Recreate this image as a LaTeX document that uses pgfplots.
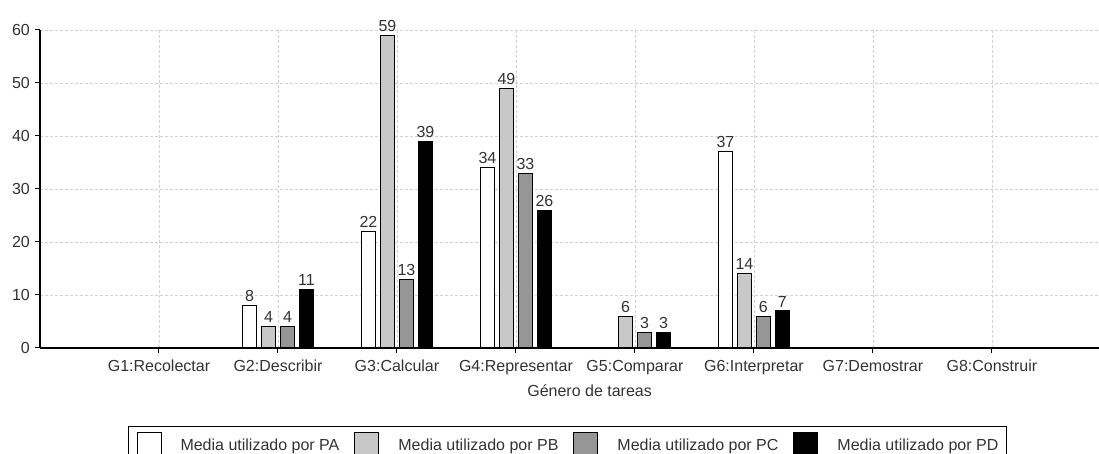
\documentclass[border=0pt]{standalone}
\usepackage{fontspec}
\setmainfont{Liberation Sans}
\usepackage{pgfplots}
\pgfplotsset{compat=1.18}
\definecolor{txt}{HTML}{333333}
\definecolor{pbgray}{HTML}{C8C8C8}
\definecolor{pcgray}{HTML}{969696}
\newcommand{\lbl}{\fontsize{16}{19}\selectfont}

\pgfplotsset{
  sq/.style={legend image code/.code={\draw[##1,line width=1pt] (0pt,-20pt) rectangle (24pt,13pt);}},
}

\begin{document}
\begin{tikzpicture}
% picture frame = the reference's 1099 x 454 px, axis origin at px (40,348)
\useasboundingbox (-40pt,-106pt) rectangle (1059pt,348pt);
\begin{axis}[
  at={(0,0)}, anchor=south west,
  scale only axis, width=1059pt, height=318pt,
  xmin=0, xmax=8.9, ymin=0, ymax=60,
  ybar=5.5pt, bar width=13.5pt,
  axis lines*=left,
  axis line style={black, line width=1.3pt},
  xtick={1,...,8},
  xticklabels={G1:Recolectar,G2:Describir,G3:Calcular,G4:Representar,G5:Comparar,G6:Interpretar,G7:Demostrar,G8:Construir},
  ytick={0,10,...,60},
  tick align=outside, major tick length=5pt,
  tick style={black, line width=1pt},
  grid=major,
  major grid style={black!18, dash pattern=on 3pt off 2pt, line width=0.8pt},
  /pgf/number format/assume math mode=true,
  tick label style={font=\lbl, text=txt},
  xticklabel style={inner sep=0pt, anchor=north, yshift=-7pt},
  yticklabel style={inner sep=0pt, anchor=east, xshift=-5pt},
  xlabel={Género de tareas},
  xlabel style={font=\lbl, text=txt, inner sep=0pt, anchor=north, at={(axis description cs:0.519,0)}, yshift=-37pt},
  nodes near coords,
  nodes near coords style={font=\lbl, text=txt},
  legend columns=4,
  legend style={at={(axis description cs:0.0831,-0.2453)}, anchor=north west,
    draw=black, line width=1pt, inner xsep=8pt, inner ysep=5pt,
    font=\lbl, text=txt, nodes={inner sep=0pt},
    /tikz/every odd column/.append style={column sep=19pt},
    /tikz/every even column/.append style={column sep=15pt}},
]
\addplot[draw=black, line width=1pt, fill=white, sq] coordinates {(2,8) (3,22) (4,34) (6,37)};
\addplot[draw=black, line width=1pt, fill=pbgray, sq] coordinates {(2,4) (3,59) (4,49) (5,6) (6,14)};
\addplot[draw=black, line width=1pt, fill=pcgray, sq] coordinates {(2,4) (3,13) (4,33) (5,3) (6,6)};
\addplot[draw=black, line width=1pt, fill=black, sq] coordinates {(2,11) (3,39) (4,26) (5,3) (6,7)};
\legend{Media utilizado por PA, Media utilizado por PB, Media utilizado por PC, Media utilizado por PD}
\end{axis}
\end{tikzpicture}
\end{document}
